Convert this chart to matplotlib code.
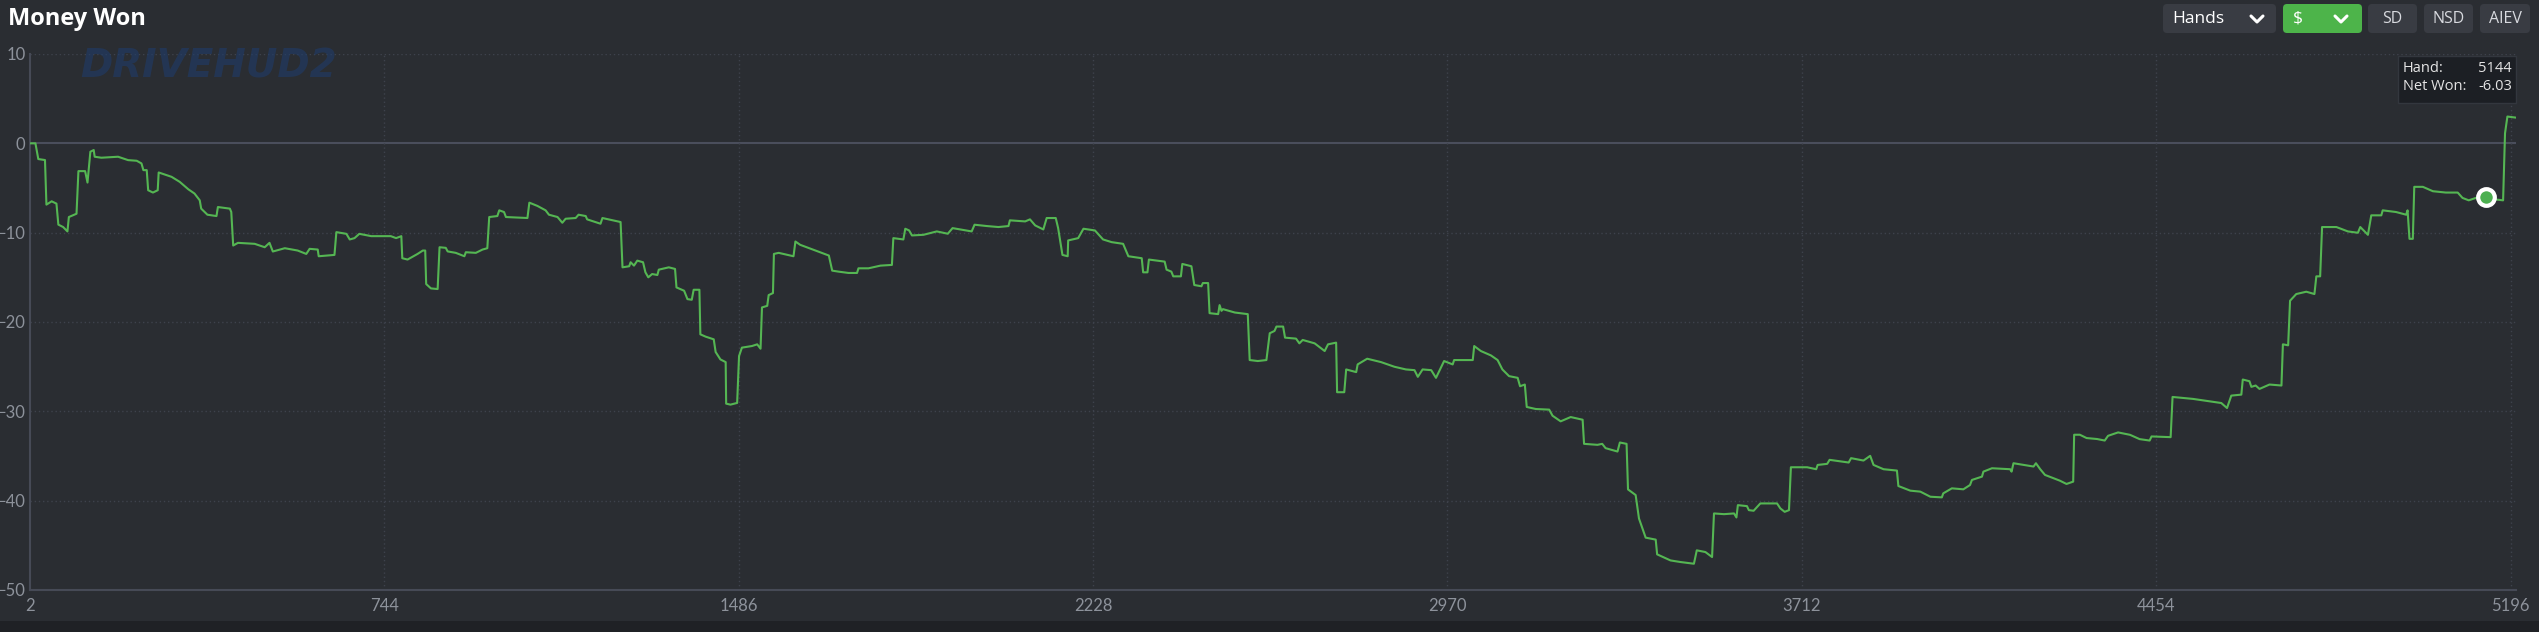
import matplotlib
matplotlib.use('Agg')
import matplotlib.pyplot as plt
from matplotlib.patches import FancyBboxPatch, Rectangle

# cumulative net won ($) by hand number
hands = [2, 14, 20, 34, 37, 48, 58, 62, 72, 81, 84, 100, 104, 118, 123, 129, 136, 138, 152, 187,
         208, 226, 236, 240, 247, 250, 260, 270, 272, 299, 316, 334, 347, 358, 361, 374, 393, 396, 421, 424,
         428, 438, 473, 494, 504, 511, 536, 563, 581, 588, 605, 607, 640, 644, 665, 672, 682, 692, 717, 758,
         769, 780, 782, 793, 814, 825, 830, 832, 842, 856, 860, 873, 877, 894, 912, 915, 936, 950, 960, 964,
         981, 985, 995, 999, 1044, 1048, 1065, 1082, 1089, 1107, 1117, 1124, 1145, 1151, 1166, 1169, 1197, 1201, 1239, 1243,
         1257, 1260, 1267, 1274, 1286, 1291, 1297, 1305, 1316, 1319, 1340, 1353, 1356, 1372, 1379, 1388, 1392, 1404, 1406, 1417,
         1434, 1438, 1448, 1459, 1460, 1469, 1483, 1487, 1493, 1514, 1525, 1532, 1535, 1546, 1549, 1558, 1560, 1570, 1601, 1605,
         1615, 1647, 1675, 1682, 1695, 1716, 1734, 1737, 1758, 1783, 1807, 1810, 1831, 1835, 1843, 1849, 1873, 1901, 1924, 1934,
         1974, 1980, 2006, 2030, 2051, 2054, 2086, 2096, 2107, 2124, 2131, 2150, 2155, 2164, 2175, 2176, 2197, 2208, 2232, 2249,
         2267, 2291, 2302, 2330, 2333, 2342, 2345, 2378, 2382, 2392, 2396, 2412, 2415, 2434, 2440, 2455, 2458, 2469, 2472, 2490,
         2493, 2497, 2500, 2525, 2552, 2556, 2573, 2591, 2598, 2608, 2612, 2626, 2630, 2653, 2660, 2667, 2692, 2713, 2720, 2737,
         2739, 2754, 2758, 2779, 2782, 2802, 2831, 2859, 2883, 2901, 2908, 2918, 2936, 2946, 2963, 2981, 2984, 3023, 3026, 3040,
         3061, 3075, 3085, 3099, 3117, 3122, 3132, 3136, 3155, 3183, 3190, 3207, 3228, 3253, 3256, 3284, 3294, 3301, 3326, 3331,
         3345, 3348, 3364, 3371, 3385, 3406, 3409, 3437, 3458, 3486, 3492, 3510, 3524, 3528, 3549, 3570, 3575, 3578, 3597, 3601,
         3611, 3625, 3660, 3667, 3676, 3685, 3689, 3723, 3742, 3745, 3765, 3770, 3810, 3815, 3841, 3855, 3862, 3883, 3911, 3914,
         3939, 3960, 3981, 4005, 4008, 4026, 4050, 4064, 4068, 4089, 4092, 4110, 4148, 4151, 4155, 4197, 4202, 4211, 4221, 4252,
         4266, 4280, 4282, 4294, 4308, 4330, 4346, 4353, 4374, 4399, 4419, 4440, 4444, 4484, 4488, 4510, 4531, 4566, 4590, 4602,
         4611, 4632, 4635, 4649, 4653, 4662, 4670, 4691, 4716, 4719, 4730, 4734, 4747, 4768, 4785, 4789, 4797, 4801, 4831, 4855,
         4876, 4881, 4897, 4904, 4925, 4928, 4956, 4977, 4980, 4984, 4991, 4994, 5012, 5033, 5060, 5085, 5095, 5108, 5123, 5144,
         5160, 5180, 5184, 5189, 5205]
won = [0, 0, -1.76, -1.87, -6.86, -6.49, -6.75, -9.1, -9.37, -9.86, -8.25, -7.88, -3.11, -3.11, -4.39, -0.94, -0.75, -1.5, -1.61, -1.5,
       -1.88, -1.95, -2.25, -3.0, -3.0, -5.25, -5.51, -5.25, -3.26, -3.75, -4.31, -5.14, -5.62, -6.38, -7.31, -7.99, -8.14, -7.13, -7.31, -7.69,
       -11.44, -11.14, -11.25, -11.63, -11.14, -12.11, -11.74, -12.0, -12.38, -11.81, -11.89, -12.64, -12.49, -9.94, -10.13, -10.76, -10.61, -10.13, -10.39, -10.39,
       -10.61, -10.39, -12.86, -13.01, -12.38, -12.0, -12.0, -15.75, -16.24, -16.31, -11.63, -11.7, -12.1, -12.26, -12.64, -12.19, -12.26, -11.89, -11.74, -8.25,
       -8.14, -7.5, -7.69, -8.25, -8.36, -6.64, -7.01, -7.5, -7.99, -8.25, -8.89, -8.44, -8.36, -7.99, -8.14, -8.51, -9.0, -8.36, -8.81, -13.88,
       -13.76, -13.31, -13.69, -13.13, -13.31, -14.44, -15.0, -14.63, -14.74, -14.14, -13.88, -14.06, -16.13, -16.5, -17.44, -17.51, -16.39, -16.39, -21.38, -21.64,
       -21.94, -23.36, -24.19, -24.49, -29.14, -29.25, -29.06, -23.81, -22.87, -22.69, -22.5, -22.99, -18.37, -18.19, -16.99, -16.76, -12.38, -12.26, -12.64, -10.99,
       -11.36, -12.0, -12.56, -14.25, -14.36, -14.51, -14.51, -13.99, -13.99, -13.69, -13.61, -10.61, -10.76, -9.56, -9.75, -10.31, -10.24, -9.86, -10.12, -9.49,
       -9.86, -9.11, -9.26, -9.37, -9.26, -8.62, -8.74, -8.51, -9.19, -9.64, -8.36, -8.36, -9.49, -12.49, -12.64, -10.87, -10.61, -9.56, -9.75, -10.76,
       -11.06, -11.25, -12.64, -12.86, -14.44, -14.44, -13.01, -13.24, -14.14, -14.36, -14.89, -14.89, -13.5, -13.76, -15.86, -16.0, -15.64, -15.64, -19.01, -19.12,
       -18.11, -18.75, -18.56, -18.94, -19.12, -24.26, -24.37, -24.26, -21.26, -21.0, -20.51, -20.51, -21.75, -21.86, -22.39, -22.01, -22.39, -23.25, -22.5, -22.31,
       -27.86, -27.86, -25.31, -25.61, -24.75, -24.11, -24.49, -25.01, -25.31, -25.39, -26.14, -25.31, -25.39, -26.25, -24.37, -24.75, -24.26, -24.26, -22.69, -23.25,
       -23.74, -24.26, -25.31, -26.06, -26.25, -27.19, -27.0, -29.51, -29.74, -29.81, -30.49, -31.12, -30.64, -30.94, -33.64, -33.75, -33.64, -34.12, -34.5, -33.49,
       -33.64, -38.74, -39.37, -42.0, -44.14, -44.36, -46.01, -46.69, -46.87, -47.06, -45.56, -45.75, -46.31, -41.43, -41.51, -41.43, -41.88, -40.5, -40.61, -41.06,
       -41.13, -40.31, -40.31, -40.87, -41.25, -41.06, -36.26, -36.26, -36.48, -36.0, -35.88, -35.43, -35.73, -35.24, -35.51, -34.98, -36.0, -36.48, -36.63, -38.36,
       -38.88, -38.99, -39.56, -39.63, -39.18, -38.62, -38.73, -38.25, -37.68, -37.31, -36.75, -36.37, -36.48, -36.75, -35.81, -36.18, -35.81, -36.48, -37.12, -37.76,
       -38.13, -37.87, -32.62, -32.62, -32.99, -33.1, -33.27, -32.74, -32.36, -32.63, -33.11, -33.27, -32.81, -32.89, -28.39, -28.5, -28.61, -28.88, -29.07, -29.63,
       -28.24, -28.13, -26.44, -26.63, -27.26, -27.11, -27.49, -27.0, -27.11, -22.5, -22.61, -17.62, -16.87, -16.61, -16.87, -14.89, -14.89, -9.37, -9.37, -9.86,
       -10.01, -9.37, -10.24, -8.06, -8.06, -7.5, -7.69, -7.99, -7.5, -10.69, -10.69, -4.87, -4.87, -5.36, -5.51, -5.51, -6.11, -6.38, -6.11, -6.03,
       -6.26, -6.38, 1.12, 3.0, 2.89]

xticks = [2, 744, 1486, 2228, 2970, 3712, 4454, 5196]
yticks = [10, 0, -10, -20, -30, -40, -50]
hover_hand = 5144
hover_won = -6.03
buttons = ['SD', 'NSD', 'AIEV']

BG = '#2a2d32'
GREEN = '#55b653'
GRID = '#3e424c'
TICK = '#8d929b'

W, H = 2539, 632
fig = plt.figure(figsize=(W / 100, H / 100), dpi=100, facecolor=BG)

# main plot area
ax = fig.add_axes([29.7 / W, 1 - 590 / H, (2516 - 29.7) / W, (590 - 54) / H])
ax.set_facecolor(BG)
ax.set_xlim(2, 5207)
ax.set_ylim(-50, 10)
ax.set_xticks(xticks)
ax.set_yticks(yticks)
ax.tick_params(length=0, colors=TICK, labelsize=12)
ax.tick_params(axis='x', pad=6)
ax.tick_params(axis='y', pad=3)
for lab in ax.get_xticklabels() + ax.get_yticklabels():
    lab.set_fontfamily('Lato')
for s in ['top', 'right']:
    ax.spines[s].set_visible(False)
for s in ['left', 'bottom']:
    ax.spines[s].set_color('#464a56')
    ax.spines[s].set_linewidth(1.5)

for y in yticks:
    if y == 0:
        ax.axhline(y, color='#4a4e5c', lw=1.5, zorder=1)
    elif y != -50:
        ax.axhline(y, color=GRID, lw=1, ls=(0, (1, 2)), zorder=1)
for x in xticks[1:]:
    ax.axvline(x, color=GRID, lw=1, ls=(0, (1, 2)), zorder=1)

ax.plot(hands, won, color=GREEN, lw=1.5, zorder=3)
ax.plot([hover_hand], [hover_won], 'o', ms=12, mfc='#4caf50', mec='white', mew=3, zorder=5)

# overlay in pixel coords for title, watermark and the header buttons
ov = fig.add_axes([0, 0, 1, 1])
ov.set_xlim(0, W)
ov.set_ylim(H, 0)
ov.axis('off')

ov.add_patch(Rectangle((0, 621), W, 11, color='#1f2125', lw=0))
ov.text(8, 19, 'Money Won', color='white', fontsize=17, fontweight='bold',
        family='Open Sans', va='center', ha='left')
ov.text(80, 67, 'DRIVEHUD2', color='#1f3c6a', alpha=0.6, fontsize=28, fontweight='bold',
        fontstyle='italic', family='DejaVu Sans', va='center', ha='left')


def button(x0, x1, fc):
    ov.add_patch(FancyBboxPatch((x0, 4), x1 - x0, 29, boxstyle='round,pad=0,rounding_size=4',
                                fc=fc, ec='none'))


def chevron(cx):
    ov.plot([cx - 6, cx, cx + 6], [16, 22, 16], color='white', lw=2.2, solid_capstyle='round')


button(2163, 2276, '#393c43')
ov.text(2172, 19, 'Hands', color='white', fontsize=12.5, family='Open Sans', va='center')
chevron(2257)
button(2283, 2362, '#4db44a')
ov.text(2293, 19, '$', color='white', fontsize=12.5, family='Open Sans', va='center')
chevron(2341)
for (x0, x1), name in zip([(2368, 2417), (2424, 2473), (2480, 2530)], buttons):
    button(x0, x1, '#393c43')
    ov.text((x0 + x1) / 2, 19, name, color='#d8dadf', fontsize=11.5, family='Open Sans',
            va='center', ha='center')

# hover tooltip
ov.add_patch(Rectangle((2398, 56), 118, 47, fc='#1c1f24', ec='#33373e', lw=1))
ov.text(2403, 69, 'Hand:', color='#e4e4e4', fontsize=10.5, family='Open Sans', va='center')
ov.text(2512, 69, str(hover_hand), color='#e4e4e4', fontsize=10.5, family='Open Sans',
        va='center', ha='right')
ov.text(2403, 86, 'Net Won:', color='#e4e4e4', fontsize=10.5, family='Open Sans', va='center')
ov.text(2512, 86, f'{hover_won:.2f}', color='#e4e4e4', fontsize=10.5, family='Open Sans',
        va='center', ha='right')

fig.savefig('out.png', dpi=100, facecolor=fig.get_facecolor())
